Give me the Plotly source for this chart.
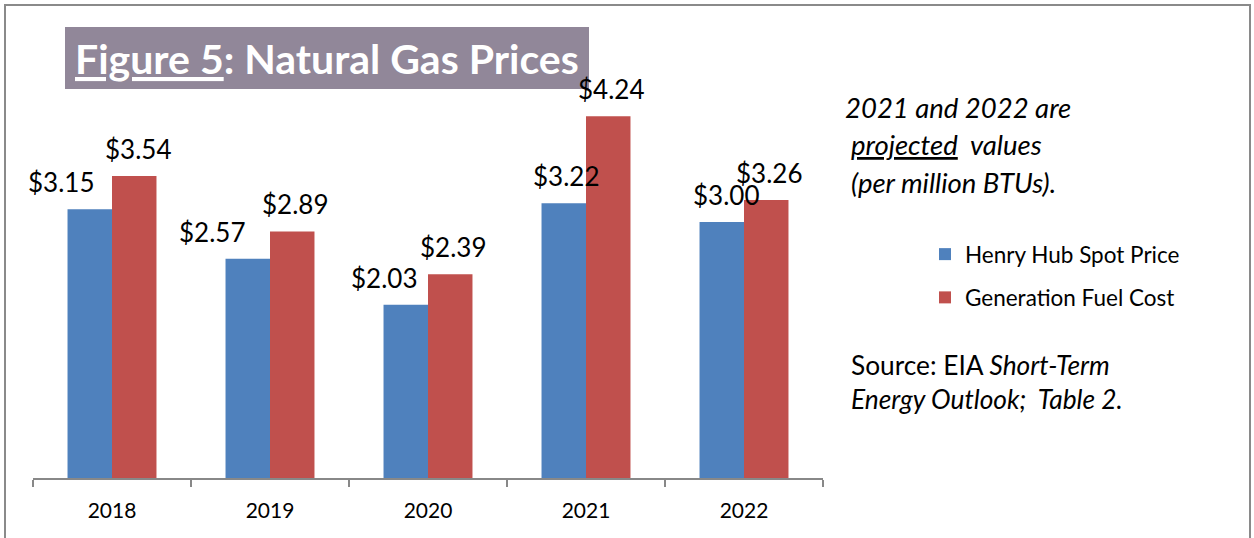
import plotly.graph_objects as go

years = ["2018", "2019", "2020", "2021", "2022"]
henry_hub = [3.15, 2.57, 2.03, 3.22, 3.00]
gen_fuel = [3.54, 2.89, 2.39, 4.24, 3.26]
series_names = ["Henry Hub Spot Price", "Generation Fuel Cost"]
series_colors = ["#4F81BD", "#C0504D"]
# horizontal nudges of the value labels (px), as placed in the original
blue_label_nudge = [-29, -36, -22, 2, 4]
red_label_nudge = [4, 3, 3, 3, 3]

W, H = 1254, 538
FONT = "Lato"

def px_x(p):
    return p / W

def px_y(p):
    return 1 - p / H

fig = go.Figure()
for i, (vals, name, col) in enumerate(zip([henry_hub, gen_fuel], series_names, series_colors)):
    fig.add_trace(go.Bar(
        x=years, y=vals, name=name, marker=dict(color=col, line=dict(width=0)),
        legendgroup=f"g{i}", hoverinfo="skip",
    ))

annotations = []
half = 22.3
label_font = dict(family=FONT, size=26, color="#000")
for idx, (v, dx) in enumerate(zip(henry_hub, blue_label_nudge)):
    annotations.append(dict(x=idx, y=v, xref="x", yref="y", text=f"${v:.2f}", showarrow=False,
                            xshift=-half + dx, yshift=27, yanchor="middle", xanchor="center",
                            font=label_font))
for idx, (v, dx) in enumerate(zip(gen_fuel, red_label_nudge)):
    annotations.append(dict(x=idx, y=v, xref="x", yref="y", text=f"${v:.2f}", showarrow=False,
                            xshift=half + dx, yshift=27, yanchor="middle", xanchor="center",
                            font=label_font))

# title text
annotations.append(dict(x=px_x(327), y=px_y(59), xref="paper", yref="paper",
                        text="<b><u>Figure 5</u>: Natural Gas Prices</b>", showarrow=False,
                        xanchor="center", yanchor="middle",
                        font=dict(family=FONT, size=41, color="#FFFFFF")))

note_font = dict(family=FONT, size=27.5, color="#000")
src_font = dict(family=FONT, size=26.3, color="#000")
annotations += [
    dict(x=px_x(843), y=px_y(108), text="<i>2021 and 2022 are</i>", font=note_font),
    dict(x=px_x(849), y=px_y(145), text="<i><u>projected</u>  values</i>", font=note_font),
    dict(x=px_x(849), y=px_y(182), text="<i>(per million BTUs).</i>", font=note_font),
    dict(x=px_x(849), y=px_y(365), text="Source: EIA <i>Short-Term</i>", font=src_font),
    dict(x=px_x(849), y=px_y(399), text="<i>Energy Outlook;  Table 2.</i>", font=src_font),
]
for a in annotations[-5:]:
    a.update(xref="paper", yref="paper", showarrow=False, xanchor="left", yanchor="middle")

shapes = [
    # outer frame
    dict(type="rect", xref="paper", yref="paper", x0=px_x(5), x1=px_x(1250), y0=-0.1, y1=px_y(5),
         line=dict(color="#8A8A8A", width=2), fillcolor="rgba(0,0,0,0)", layer="below"),
    # title box
    dict(type="rect", xref="paper", yref="paper", x0=px_x(65), x1=px_x(589), y0=px_y(89), y1=px_y(27),
         line=dict(width=0), fillcolor="#918799", layer="below"),
]

fig.update_layout(
    width=W, height=H,
    margin=dict(l=0, r=0, t=0, b=0, autoexpand=False),
    paper_bgcolor="white", plot_bgcolor="white",
    barmode="group", bargap=0.437, bargroupgap=0,
    font=dict(family=FONT, color="#000"),
    showlegend=True,
    legend=dict(x=px_x(925), y=px_y(233), xanchor="left", yanchor="top",
                font=dict(family=FONT, size=22.5, color="#000"),
                tracegroupgap=11, bgcolor="rgba(0,0,0,0)", itemclick=False),
    xaxis=dict(type="category", range=[-0.5, 4.5], autorange=False,
               domain=[px_x(33), px_x(823)], showline=True, linecolor="#888888",
               linewidth=2, automargin=False,
               ticks="outside", tickson="boundaries", ticklen=7, tickwidth=2, tickcolor="#888888",
               tickfont=dict(family=FONT, size=21, color="#000"), ticklabelstandoff=13,
               tickangle=0, showgrid=False, zeroline=False, fixedrange=True),
    yaxis=dict(domain=[px_y(478), px_y(78)], range=[0, 400 / 85.3], autorange=False,
               visible=False, automargin=False,
               showgrid=False, zeroline=False, fixedrange=True),
    annotations=annotations,
    shapes=shapes,
)

fig.write_html("out.html", config={"displayModeBar": False},
               post_script="document.body.style.margin='0';")
